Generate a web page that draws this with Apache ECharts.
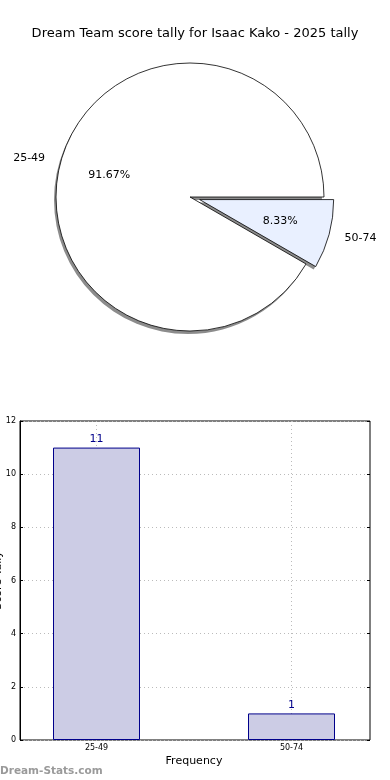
<!DOCTYPE html>
<html><head><meta charset="utf-8">
<script src="https://cdn.jsdelivr.net/npm/echarts@6/dist/echarts.min.js"></script>
<style>html,body{margin:0;padding:0;background:#fff}#c{width:390px;height:780px}</style>
</head><body><div id="c"></div>
<script>
const titleText = 'Dream Team score tally for Isaac Kako - 2025 tally';
const categories = ['25-49', '50-74'];
const counts = [11, 1];
const pieColors = ['#ffffff', '#e9f0ff'];
const yTicks = [0, 2, 4, 6, 8, 10, 12];
const yName = 'Score Tally';
const xName = 'Frequency';
const watermark = 'Dream-Stats.com';

const FONT = 'DejaVu Sans';
const total = counts.reduce((a, b) => a + b, 0);
const pieData = categories.map((c, i) => ({
  name: c, value: counts[i], selected: i === 1,
  itemStyle: { color: pieColors[i] }
}));
const plainData = categories.map((c, i) => ({
  name: c, value: counts[i], selected: i === 1
}));
const barData = counts.map((v, i) => [i, v]);

const pieBase = {
  type: 'pie', radius: [0, 134], startAngle: 0, clockwise: false,
  selectedMode: 'single', selectedOffset: 10, avoidLabelOverlap: false,
  emphasis: { disabled: true }
};

const chart = echarts.init(document.getElementById('c'), null, { renderer: 'canvas' });
chart.setOption({
  animation: false,
  backgroundColor: '#fff',
  title: {
    text: titleText, left: 'center', top: 22,
    textStyle: { fontFamily: FONT, fontSize: 13, fontWeight: 'normal', color: '#000' }
  },
  graphic: [{
    type: 'text', left: 0, top: 766,
    style: { text: watermark, fill: '#9a9a9a', font: 'bold 10.5px ' + FONT }
  }],
  grid: [
    { left: 20, width: 350, top: 421, height: 319, show: true, borderColor: '#000', borderWidth: 1, backgroundColor: 'transparent', outerBoundsMode: 'none', containLabel: false },
    { left: -98.5, width: 585, top: 421, height: 319, show: false, outerBoundsMode: 'none', containLabel: false }
  ],
  xAxis: [
    { gridIndex: 0, type: 'value', min: 0, max: 1, show: false },
    {
      gridIndex: 1, type: 'value', min: -1, max: 2, interval: 1,
      axisLine: { show: false },
      axisTick: { show: true, inside: true, length: 3, lineStyle: { color: '#000' } },
      axisLabel: {
        fontFamily: FONT, fontSize: 8, color: '#000', margin: 4,
        formatter: v => categories[v] !== undefined ? categories[v] : ''
      },
      splitLine: { show: true, lineStyle: { color: '#bbb', type: [1, 3], width: 1 } },
      name: xName, nameLocation: 'middle', nameGap: 16,
      nameTextStyle: { fontFamily: FONT, fontSize: 11, color: '#000' }
    }
  ],
  yAxis: [
    {
      gridIndex: 0, type: 'value', min: 0, max: 12, interval: 2,
      axisLine: { show: true, lineStyle: { color: '#000' } },
      axisTick: { show: true, inside: true, length: 3, lineStyle: { color: '#000' } },
      axisLabel: { fontFamily: FONT, fontSize: 8, color: '#000', margin: 4 },
      splitLine: { show: true, lineStyle: { color: '#bbb', type: [1, 3], width: 1 } },
      name: yName, nameLocation: 'middle', nameGap: 16, nameMoveOverlap: false,
      nameTextStyle: { fontFamily: FONT, fontSize: 11, color: '#000' }
    },
    { gridIndex: 1, type: 'value', min: 0, max: 12, interval: 2, show: false },
    {
      gridIndex: 0, type: 'value', min: 0, max: 12, interval: 2, position: 'right',
      axisLine: { show: false },
      axisTick: { show: true, inside: true, length: 3, lineStyle: { color: '#000' } },
      axisLabel: { show: false },
      splitLine: { show: false }
    }
  ],
  series: [
    Object.assign({}, pieBase, {
      center: [188, 200], silent: true, z: 1,
      data: plainData,
      itemStyle: { color: '#8c8c8c', borderWidth: 0 },
      label: { show: false }, labelLine: { show: false }
    }),
    Object.assign({}, pieBase, {
      center: [190, 197], z: 2,
      data: pieData,
      itemStyle: { borderColor: '#000', borderWidth: 0.8 },
      label: {
        show: true, position: 'outside', formatter: '{b}', distanceToLabelLine: 0,
        fontFamily: FONT, fontSize: 11, color: '#000'
      },
      labelLine: { show: false, length: 16, length2: 0 },
      select: { disabled: false, itemStyle: { borderColor: '#000', borderWidth: 0.8 } }
    }),
    Object.assign({}, pieBase, {
      center: [190, 197], radius: [0, 161], silent: true, z: 3,
      data: plainData,
      itemStyle: { color: 'rgba(0,0,0,0)', borderWidth: 0 },
      label: {
        show: true, position: 'inside',
        formatter: p => (p.value / total * 100).toFixed(2) + '%',
        fontFamily: FONT, fontSize: 11, color: '#000'
      },
      labelLine: { show: false }
    }),
    {
      type: 'bar', xAxisIndex: 1, yAxisIndex: 1,
      data: barData, barWidth: 87,
      itemStyle: { color: '#ccccE5', borderColor: '#00008b', borderWidth: 1 },
      label: {
        show: true, position: 'top', distance: 3,
        fontFamily: FONT, fontSize: 11, color: '#00008b',
        formatter: p => String(p.value[1])
      },
      emphasis: { disabled: true }
    }
  ]
});
</script></body></html>
